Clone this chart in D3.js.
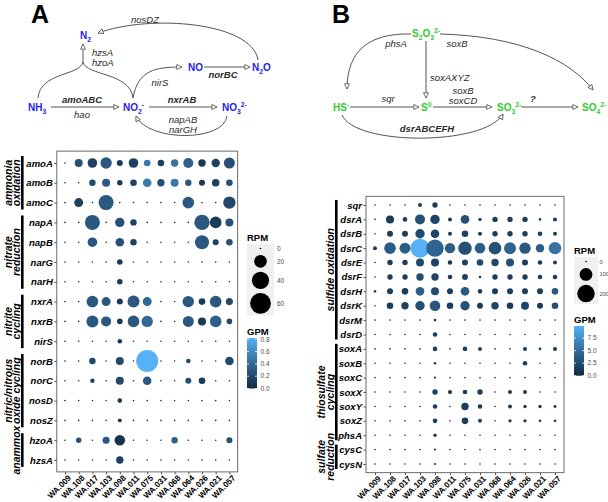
<!DOCTYPE html>
<html><head><meta charset="utf-8">
<script src="https://cdn.jsdelivr.net/npm/d3@7"></script>
<style>body{margin:0;background:#fff} svg{display:block} text{font-family:"Liberation Sans",Arial,sans-serif}</style>
</head><body><svg id="c" width="608" height="502"></svg>
<script>
// ---------------- DATA ----------------
const samples = ["WA.009","WA.108","WA.017","WA.103","WA.098","WA.011","WA.075","WA.031","WA.068","WA.064","WA.026","WA.021","WA.057"];

const genesA = ["amoA","amoB","amoC","napA","napB","narG","narH","nxrA","nxrB","nirS","norB","norC","nosD","nosZ","hzoA","hzsA"];
const rpmA = [
 [0,6.7,10.5,15.6,3.2,10.5,4.1,4.1,5.5,11.5,5.5,7.6,14.4],
 [0,0,3.8,6.7,2.4,4.1,8.0,5.5,6.7,3.8,3.2,5.9,4.1],
 [0,8.9,0,29.3,0,0,0,0,0,16.3,0,0,19.0],
 [0,0,29.3,0,9.9,3.8,0,0,0,0,31.1,16.3,6.7],
 [0,0,10.5,0,8.0,3.8,0,0,0,0,25.1,3.2,4.1],
 [0,0,0,0,2.6,0,0,0,0,0,0,0,0],
 [0,0,0,0,2.6,0,0,0,0,0,0,0,0],
 [0,0,16.3,8.9,3.2,17.6,8.9,0,0,15.6,4.1,16.3,4.9],
 [0,0,17.6,11.5,2.6,16.3,15.6,0,0,14.4,6.7,16.3,2.6],
 [0,0,0,0,1.5,0,0,0,0,0,0,0,0],
 [0,0,3.8,0,6.7,0,68,0,0,1.5,0,0,8.0],
 [0,0,1.3,0,6.7,0,8.0,0,0,3.2,4.1,0,0],
 [0,0,0,0,1.5,0,0,0,0,0,0,0,0],
 [0,0,0,0,0.9,0,0,0,0,0,0,0,0],
 [0,2.4,0,4.9,13.2,0,0,0,3.8,0,0,0,3.2],
 [0,0,0,0,5.5,0,0,0,0,0,0,0,0]
];
const gpmA = [
 [0,0.25,0.15,0.3,0.1,0.15,0.5,0.15,0.45,0.35,0.08,0.15,0.25],
 [0,0,0.2,0.3,0.1,0.15,0.5,0.25,0.5,0.3,0.1,0.15,0.25],
 [0,0.15,0,0.3,0,0,0,0,0,0.3,0,0,0.2],
 [0,0,0.3,0,0.25,0.15,0,0,0,0,0.3,0.12,0.25],
 [0,0,0.3,0,0.25,0.15,0,0,0,0,0.3,0.15,0.25],
 [0,0,0,0,0.1,0,0,0,0,0,0,0,0],
 [0,0,0,0,0.1,0,0,0,0,0,0,0,0],
 [0,0,0.3,0.3,0.1,0.3,0.4,0,0,0.3,0.1,0.3,0.2],
 [0,0,0.3,0.3,0.1,0.3,0.4,0,0,0.3,0.1,0.35,0.2],
 [0,0,0,0,0.1,0,0,0,0,0,0,0,0],
 [0,0,0.2,0,0.2,0,0.82,0,0,0.2,0,0,0.2],
 [0,0,0.15,0,0.2,0,0.3,0,0,0.25,0.1,0,0],
 [0,0,0,0,0.1,0,0,0,0,0,0,0,0],
 [0,0,0,0,0.1,0,0,0,0,0,0,0,0],
 [0,0.25,0,0.3,0.05,0,0,0,0.35,0,0,0,0.25],
 [0,0,0,0,0.15,0,0,0,0,0,0,0,0]
];
const groupsA = [
 {label:["ammonia","oxidation"], from:"amoA", to:"amoC"},
 {label:["nitrate","reduction"], from:"napA", to:"narH"},
 {label:["nitrite","cycling"], from:"nxrA", to:"nirS"},
 {label:["nitric/nitrous","oxide cycling"], from:"norB", to:"nosZ"},
 {label:["anammox"], from:"hzoA", to:"hzsA"}
];
const rpmTicksA = [0,20,40,60];
const gpmTicksA = [0,0.2,0.4,0.6,0.8];

const genesB = ["sqr","dsrA","dsrB","dsrC","dsrE","dsrF","dsrH","dsrK","dsrM","dsrD","soxA","soxB","soxC","soxX","soxY","soxZ","phsA","cysC","cysN"];
const rpmB = [
 [0,0,0,4.6,11.4,0,0,0,0,0,0,0,0],
 [0,32.5,7.1,55.9,48.2,4.6,38.8,2.6,11.4,11.4,11.4,0.8,4.6],
 [0,15.3,15.3,48.2,38.8,4.6,19.8,4.6,11.4,11.4,11.4,7.1,4.6],
 [4.6,79.3,70,240,198,61.1,110,64.2,95.9,85.7,76.1,36.6,92.4],
 [0,11.4,11.4,32.5,32.5,7.1,15.3,19.8,26.7,32.5,15.3,7.1,4.6],
 [0,11.4,11.4,26.7,26.7,7.1,15.3,0.8,11.4,11.4,11.4,7.1,7.1],
 [0.8,15.3,19.8,38.8,32.5,15.3,38.8,7.1,15.3,15.3,15.3,15.3,19.8],
 [0,19.8,26.7,48.2,64.2,19.8,48.2,15.3,26.7,19.8,32.5,15.3,19.8],
 [0,0,0,0,0.8,0,0,0,0,0,0,0,0],
 [0,0,0,0,7.1,0,0,0,0,0,0,0,0],
 [0,0,0,0,7.1,0,7.1,4.6,0,0,4.6,0.8,4.6],
 [0,0,0,0,0.8,0,0,0,0,0,7.1,0,0],
 [0,0,0,0,0.3,0,0,0,0,0,0,0,0],
 [0,0,0,0,11.4,5.5,7.1,11.4,0,4.6,4.6,0,0],
 [0,0,0,0,7.1,0,26.7,7.1,0,4.6,2.6,2.6,1.5],
 [0,0,0,0,7.1,0,19.8,4.6,0,2.6,2.6,0.8,0.8],
 [0,0,0,0,2.6,0,0,0,0,0,0,0,0],
 [0,0,0,0,0.2,0,0,0,0,0,0,0,0],
 [0,0,0,0,0.2,0,0,0,0,0,0,0,0]
];
const gpmB = [
 [0,0,0,1.5,1.5,0,0,0,0,0,0,0,0],
 [0,1.5,1.5,3,2,1.5,3,1.5,1.5,1.5,1.5,1.5,1.5],
 [0,1.5,1.5,2.5,2,1.5,2,1.5,1.5,1.5,1.5,1.5,1.5],
 [1.5,4,4,9.9,4.5,4,3,4,3,4.5,3.5,4,5.5],
 [0,1.5,1.5,2.5,2,1.5,2,2.5,2.5,3,1.5,1.5,1.5],
 [0,1.5,1.5,2.5,2,1.5,2,1.5,1.5,1.5,1.5,1.5,1.5],
 [1.5,1.5,1.5,4,2.5,1.5,3.5,1.5,1.5,1.5,1.5,1.5,3.5],
 [0,1.5,2,3,3.5,1.5,3,1.5,2,1.5,2,1.5,3],
 [0,0,0,0,1.5,0,0,0,0,0,0,0,0],
 [0,0,0,0,1.5,0,0,0,0,0,0,0,0],
 [0,0,0,0,1.5,0,1.5,1.5,0,0,1.5,1.5,1.5],
 [0,0,0,0,1.5,0,0,0,0,0,1.5,0,0],
 [0,0,0,0,1.5,0,0,0,0,0,0,0,0],
 [0,0,0,0,1.5,1.5,1.5,1.5,0,1.5,1.5,0,0],
 [0,0,0,0,1.5,0,1.5,1.5,0,1.5,1.5,1.5,1.5],
 [0,0,0,0,1.5,0,1.5,1.5,0,1.5,1.5,1.5,1.5],
 [0,0,0,0,1.5,0,0,0,0,0,0,0,0],
 [0,0,0,0,1.5,0,0,0,0,0,0,0,0],
 [0,0,0,0,1.5,0,0,0,0,0,0,0,0]
];
const groupsB = [
 {label:["sulfide oxidation"], from:"sqr", to:"dsrD"},
 {label:["thiosulfate","cycling"], from:"soxA", to:"phsA"},
 {label:["sulfate","reduction"], from:"cysC", to:"cysN"}
];
const rpmTicksB = [0,100,200];
const gpmTicksB = [0,2.5,5,7.5];

// ---------------- DRAW ----------------
const svg = d3.select("#c");
const defs = svg.append("defs");
defs.append("marker").attr("id","arr").attr("viewBox","0 0 10 10").attr("refX",9).attr("refY",5)
  .attr("markerWidth",6.5).attr("markerHeight",6.5).attr("orient","auto").attr("markerUnits","userSpaceOnUse")
  .append("path").attr("d","M1,1.2 L9,5 L1,8.8 Z").attr("fill","#fff").attr("stroke","#555").attr("stroke-width",1.3);

const LOW = "#132B43", HIGH = "#56B1F7";

function dotPanel(o){
  const x = d3.scalePoint().domain(samples).range([o.x0,o.x1]);
  const y = d3.scalePoint().domain(o.genes).range([o.y0,o.y1]);
  const r = d3.scaleSqrt().domain([0,o.rmax]).range([o.rmin,o.rbig]);
  const c = d3.scaleLinear().domain([0,o.gmax]).range([LOW,HIGH]).interpolate(d3.interpolateLab);
  const sx = x.step(), sy = y.step();
  const bx0 = o.x0-0.6*sx, bx1 = o.x1+0.6*sx, by0 = o.y0-0.6*sy, by1 = o.y1+0.6*sy;
  svg.append("rect").attr("x",bx0).attr("y",by0).attr("width",bx1-bx0).attr("height",by1-by0)
    .attr("fill","#fff").attr("stroke","#6b6b6b").attr("stroke-width",1);
  // y axis
  const ya = svg.append("g").attr("transform",`translate(${bx0},0)`).call(d3.axisLeft(y).tickSize(2.5).tickPadding(1.5));
  ya.select(".domain").remove();
  ya.selectAll("line").attr("stroke","#555");
  ya.selectAll("text").attr("font-size",9.5).attr("font-weight","bold").attr("font-style","italic").attr("fill","#000");
  // x axis
  const xa = svg.append("g").attr("transform",`translate(0,${by1})`).call(d3.axisBottom(x).tickSize(2.5));
  xa.select(".domain").remove();
  xa.selectAll("line").attr("stroke","#555");
  xa.selectAll("text").attr("font-size",8.2).attr("font-weight","bold").attr("fill","#000")
    .attr("text-anchor","end").attr("x",0).attr("y",0).attr("dy","0.7em")
    .attr("transform","translate(2,2.5) rotate(-45)");
  // points
  const cells = [];
  o.genes.forEach((gn,i)=>samples.forEach((s,j)=>cells.push({g:gn,s:s,v:o.rpm[i][j],k:o.gpm[i][j]})));
  cells.sort((a,b)=>b.v-a.v);
  svg.append("g").selectAll("circle").data(cells).join("circle")
    .attr("cx",d=>x(d.s)).attr("cy",d=>y(d.g)).attr("r",d=>r(d.v)).attr("fill",d=>c(d.k));
  // groups
  o.groups.forEach(gr=>{
    const ya0 = y(gr.from)-0.35*sy, yb0 = y(gr.to)+0.35*sy;
    svg.append("rect").attr("x",o.barX).attr("y",ya0).attr("width",2.6).attr("height",yb0-ya0).attr("fill","#000");
    const cy = (ya0+yb0)/2;
    const t = svg.append("text").attr("transform","rotate(-90)").attr("text-anchor","middle")
      .attr("font-size",10.5).attr("font-weight","bold").attr("font-style","italic").attr("fill","#000");
    if(gr.label.length===1){
      t.append("tspan").attr("x",-cy).attr("y",o.lineX[1]).text(gr.label[0]);
    } else {
      gr.label.forEach((L,i)=>t.append("tspan").attr("x",-cy).attr("y",o.lineX[i]).text(L));
    }
  });
  // size legend
  const L = o.leg;
  svg.append("text").attr("x",L.x).attr("y",L.sizeTitleY).attr("font-size",9.5).attr("font-weight","bold").text("RPM");
  let yy = L.sizeTop;
  const keys = o.rpmTicks.map(v=>{const rr=r(v); const h=Math.max(9,2*rr+4); const k={v,rr,cy:yy+h/2}; yy+=h; return k;});
  svg.append("rect").attr("x",L.x).attr("y",L.sizeTop).attr("width",L.keyW).attr("height",yy-L.sizeTop).attr("fill","#f0f0f0");
  keys.forEach(k=>{
    svg.append("circle").attr("cx",L.x+L.keyW/2).attr("cy",k.cy).attr("r",k.rr).attr("fill","#000");
    svg.append("text").attr("x",L.x+L.keyW+L.labGap).attr("y",k.cy).attr("dy","0.35em").attr("font-size",L.labFs).attr("fill","#4d4d4d").text(k.v);
  });
  // colour legend
  svg.append("text").attr("x",L.x).attr("y",L.colTitleY).attr("font-size",9.5).attr("font-weight","bold").text("GPM");
  const gy = d3.scaleLinear().domain([0,o.gmax]).range([L.colBottom,L.colBottom-L.colH]);
  const gid = "grad"+o.id;
  const lg = defs.append("linearGradient").attr("id",gid).attr("x1",0).attr("y1",1).attr("x2",0).attr("y2",0);
  d3.range(0,1.0001,0.1).forEach(t=>lg.append("stop").attr("offset",t).attr("stop-color",c(t*o.gmax)));
  svg.append("rect").attr("x",L.x).attr("y",L.colBottom-L.colH).attr("width",10).attr("height",L.colH).attr("fill",`url(#${gid})`);
  o.gpmTicks.forEach(v=>{
    const py = gy(v);
    svg.append("line").attr("x1",L.x).attr("x2",L.x+2).attr("y1",py).attr("y2",py).attr("stroke","#fff").attr("stroke-width",0.8);
    svg.append("line").attr("x1",L.x+8).attr("x2",L.x+10).attr("y1",py).attr("y2",py).attr("stroke","#fff").attr("stroke-width",0.8);
    svg.append("text").attr("x",L.x+13.5).attr("y",py).attr("dy","0.35em").attr("font-size",6.5).attr("fill","#4d4d4d").text(o.fmt(v));
  });
}

dotPanel({id:"A", genes:genesA, rpm:rpmA, gpm:gpmA, groups:groupsA, x0:65, x1:229.4, y0:163, y1:460,
  rmax:68, rmin:0.8, rbig:11, gmax:0.82, barX:21, lineX:[11.5,19.5], rpmTicks:rpmTicksA, gpmTicks:gpmTicksA,
  fmt:d3.format(".1f"),
  leg:{x:247, sizeTitleY:241, sizeTop:244, keyW:27, labGap:3, labFs:6.5, colTitleY:334.5, colBottom:388.5, colH:50.5}});

dotPanel({id:"B", genes:genesB, rpm:rpmB, gpm:gpmB, groups:groupsB, x0:375, x1:555, y0:205, y1:464,
  rmax:240, rmin:0.8, rbig:9.5, gmax:9.9, barX:335, lineX:[324.5,333.5], rpmTicks:rpmTicksB, gpmTicks:gpmTicksB,
  fmt:d3.format(".1f"),
  leg:{x:574, sizeTitleY:253.5, sizeTop:257, keyW:24, labGap:1.5, labFs:5.8, colTitleY:322.5, colBottom:375.7, colH:49.7}});

// ---------------- PATHWAY DIAGRAMS ----------------
const BLUE = "#2424e6", GREEN = "#2fcc2f";
function chem(x,y,parts,color,fs){
  const t = svg.append("text").attr("x",x).attr("y",y).attr("font-size",fs).attr("font-weight","bold").attr("fill",color);
  let cur = 0;
  parts.forEach(([s,k])=>{
    const off = k===1 ? fs*0.28 : k===2 ? -fs*0.38 : 0;
    t.append("tspan").attr("dy",off-cur).attr("font-size",k?fs*0.68:fs).text(s);
    cur = off;
  });
}
function gene(x,y,s,bold,anchor){
  svg.append("text").attr("x",x).attr("y",y).attr("font-size",9.5).attr("font-style","italic")
    .attr("font-weight",bold?"bold":"normal").attr("text-anchor",anchor||"middle").attr("fill","#2a2a2a").text(s);
}
function arrow(d,head){
  const p = svg.append("path").attr("d",d).attr("fill","none").attr("stroke","#555").attr("stroke-width",1);
  if(head!==false) p.attr("marker-end","url(#arr)");
}
// panel letters
svg.append("text").attr("x",31).attr("y",23).attr("font-size",25).attr("font-weight","bold").text("A");
svg.append("text").attr("x",332).attr("y",23).attr("font-size",25).attr("font-weight","bold").text("B");

// A diagram
chem(80,39,[["N",0],["2",1]],BLUE,10);
chem(252,71,[["N",0],["2",1],["O",0]],BLUE,10);
chem(188,71,[["NO",0]],BLUE,10);
chem(28,111,[["NH",0],["3",1]],BLUE,10);
chem(123,111,[["NO",0],["2",1],["-",2]],BLUE,10);
chem(222,111,[["NO",0],["3",1],["2-",2]],BLUE,10);
arrow("M258,60 C252,22 150,14 98,33");
arrow("M38,98 C40,72 80,76 83,62",false);
arrow("M133,98 C130,72 86,76 83,62",false);
arrow("M83,62 L83,44");
arrow("M133,98 C138,70 155,67 182,67");
arrow("M51,107 L119,107");
arrow("M149,107 L217,107");
arrow("M204,67 L250,67");
arrow("M227,116 C224,142 148,142 136,116");
gene(145,22.5,"nosDZ");
gene(92,55.5,"hzsA",false,"start");
gene(92,65.5,"hzoA",false,"start");
gene(160,85.5,"nirS");
gene(223,78,"norBC",true);
gene(82,103,"amoABC",true);
gene(82,117.5,"hao");
gene(182,103,"nxrAB",true);
gene(183,122.5,"napAB");
gene(183,132.5,"narGH");

// B diagram
chem(412,37,[["S",0],["2",1],["O",0],["3",1],["2-",2]],GREEN,10);
chem(333,111,[["HS",0],["-",2]],GREEN,10);
chem(421,111,[["S",0],["0",2]],GREEN,10);
chem(497,111,[["SO",0],["3",1],["2-",2]],GREEN,10);
chem(582,111,[["SO",0],["4",1],["2-",2]],GREEN,10);
arrow("M411,34 C370,33 347,50 347,89");
arrow("M426,41 L426,98");
arrow("M440,34 C520,36 570,60 593,90");
arrow("M350,107 L419,107");
arrow("M433,107 L492,107");
arrow("M521,107 L578,107");
arrow("M342,115 C355,146 485,146 503,114");
gene(396,46.5,"phsA");
gene(457,46.5,"soxB");
gene(430,80.5,"soxAXYZ",false,"start");
gene(388,102,"sqr");
gene(463,94,"soxB");
gene(463,103.5,"soxCD");
gene(533,102,"?",true);
gene(427,131.5,"dsrABCEFH",true);
</script></body></html>
